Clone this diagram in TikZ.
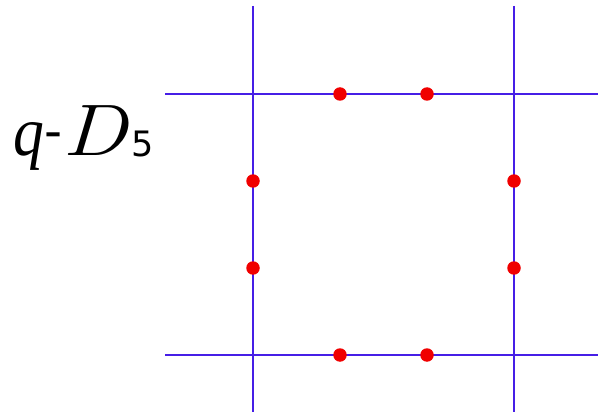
\documentclass[tikz,border=0pt]{standalone}
\usepackage{fontspec}
\setmainfont{Latin Modern Roman}
\newfontfamily\dvs{DejaVu Sans}
\newfontfamily\lsf{Liberation Serif}
\definecolor{gridblue}{RGB}{70,30,230}
\definecolor{dotred}{RGB}{240,0,0}
\begin{document}
\begin{tikzpicture}[x=1pt,y=-1pt,
  gridline/.style={gridblue,line width=2pt},
  dotnode/.style={circle,fill=dotred,inner sep=0pt,minimum size=13.5pt},
  labpart/.style={anchor=base west,inner sep=0pt}]
\useasboundingbox (0,0) rectangle (598,412);
% lines
\coordinate (v1t) at (253,6);   \coordinate (v1b) at (253,412);
\coordinate (v2t) at (514,6);   \coordinate (v2b) at (514,412);
\coordinate (h1l) at (165,94);  \coordinate (h1r) at (598,94);
\coordinate (h2l) at (165,355); \coordinate (h2r) at (598,355);
\draw[gridline] (v1t) -- (v1b);
\draw[gridline] (v2t) -- (v2b);
\draw[gridline] (h1l) -- (h1r);
\draw[gridline] (h2l) -- (h2r);
% dots
\node[dotnode] (d1) at (340,94) {};
\node[dotnode] (d2) at (427,94) {};
\node[dotnode] (d3) at (253,181) {};
\node[dotnode] (d4) at (253,268) {};
\node[dotnode] (d5) at (514,181) {};
\node[dotnode] (d6) at (514,268) {};
\node[dotnode] (d7) at (340,355) {};
\node[dotnode] (d8) at (427,355) {};
% label
\node[labpart,font=\lsf\fontsize{70}{80}\selectfont\itshape] (lq) at (13,155) {\scalebox{0.88}[1]{q}};
\node[labpart,font=\dvs\fontsize{50}{56}\selectfont] (lh) at (44.5,148.5) {-};
\node[labpart,font=\fontsize{73}{80}\selectfont\itshape] (lD) at (62,155) {\scalebox{1.2}[1]{D}};
\node[labpart,font=\dvs\fontsize{35}{40}\selectfont] (l5) at (131,157) {5};
\end{tikzpicture}
\end{document}
